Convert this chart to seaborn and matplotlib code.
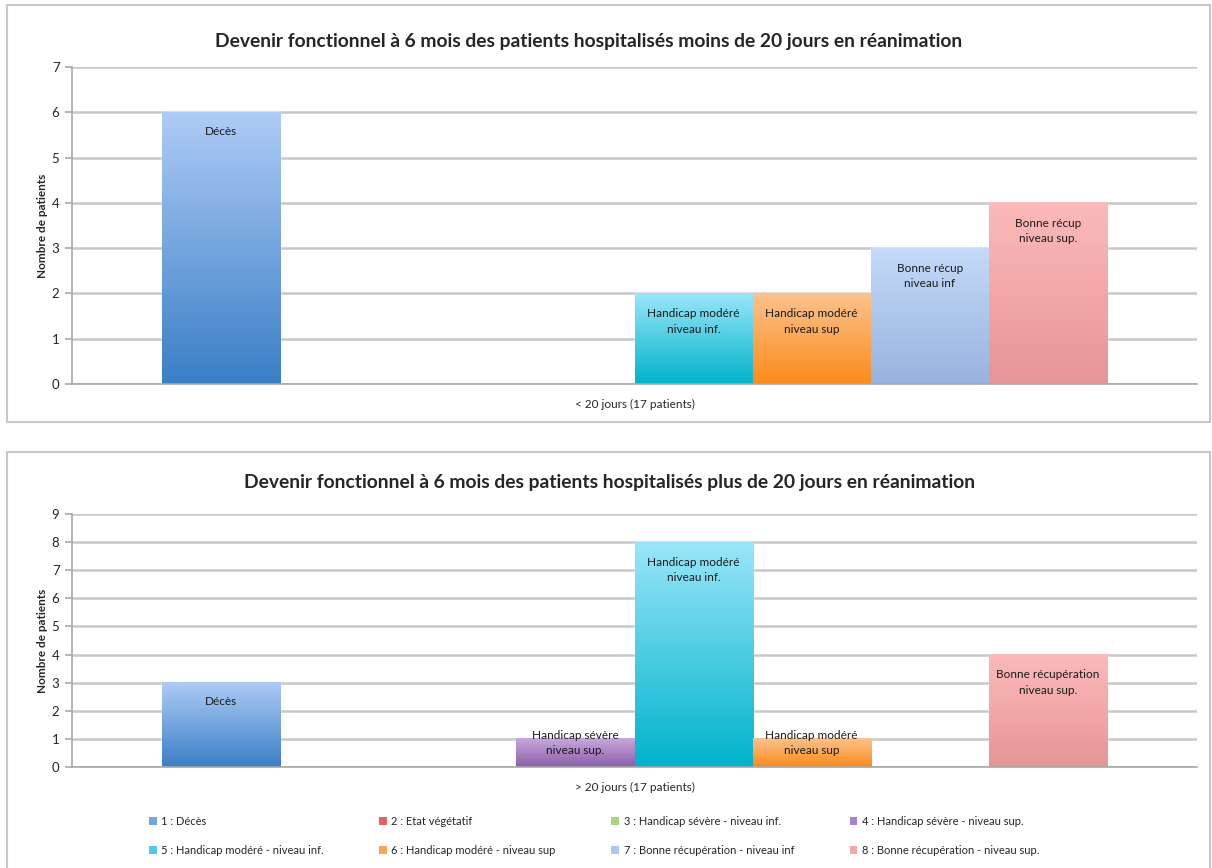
import numpy as np
import pandas as pd
import matplotlib.pyplot as plt
import seaborn as sns
from matplotlib.colors import LinearSegmentedColormap, to_rgb
from matplotlib.patches import Patch, Rectangle

sns.set_style("white")
plt.rcParams["font.family"] = ["Lato", "DejaVu Sans"]

# DONNEES
categories = ["1 : Décès", "2 : Etat végétatif", "3 : Handicap sévère - niveau inf.",
              "4 : Handicap sévère - niveau sup.", "5 : Handicap modéré - niveau inf.",
              "6 : Handicap modéré - niveau sup", "7 : Bonne récupération - niveau inf",
              "8 : Bonne récupération - niveau sup."]
counts_moins = [6, 0, 0, 0, 2, 2, 3, 4]
counts_plus = [3, 0, 0, 1, 8, 1, 0, 4]
labels_moins = ["Décès", "", "", "", "Handicap modéré\nniveau inf.", "Handicap modéré\nniveau sup",
                "Bonne récup\nniveau inf", "Bonne récup\nniveau sup."]
labels_plus = ["Décès", "", "", "Handicap sévère\nniveau sup.", "Handicap modéré\nniveau inf.",
               "Handicap modéré\nniveau sup", "", "Bonne récupération\nniveau sup."]
group_moins = "< 20 jours (17 patients)"
group_plus = "> 20 jours (17 patients)"
title_moins = "Devenir fonctionnel à 6 mois des patients hospitalisés moins de 20 jours en réanimation"
title_plus = "Devenir fonctionnel à 6 mois des patients hospitalisés plus de 20 jours en réanimation"

# couleurs en degrade (haut, bas)
top_colors = ["#aecbf6", "#f08a8c", "#c5e8a5", "#c9a8dd", "#9ae6f9", "#fcc28e", "#c5daf9", "#fcbabb"]
bottom_colors = ["#3a7fc6", "#d63b40", "#86c058", "#8a5ea8", "#00b3cc", "#fb8b1a", "#98b3df", "#e69596"]

W, H = 1212, 868
fig = plt.figure(figsize=(W / 100, H / 100), dpi=100)
GRID = "#c8c8c8"


def draw_panel(ax, counts, labels, group, ymax):
    df = pd.DataFrame({"groupe": group, "categorie": categories, "n": counts})
    sns.barplot(data=df, x="groupe", y="n", hue="categorie", hue_order=categories,
                palette=dict(zip(categories, bottom_colors)), width=0.84, saturation=1,
                errorbar=None, legend=False, ax=ax, zorder=2)
    ax.set_xlim(-0.5, 0.5)
    ax.set_ylim(0, ymax)
    bars = sorted(ax.patches, key=lambda p: p.get_x())
    grad = np.linspace(0, 1, 256).reshape(-1, 1)
    y0px = ax.transData.transform((0, 0))[1]
    for i, p in enumerate(bars):
        x0, w, h = p.get_x(), p.get_width(), p.get_height()
        if h <= 0:
            continue
        cmap = LinearSegmentedColormap.from_list("g", [bottom_colors[i], top_colors[i]])
        ax.imshow(grad, extent=(x0, x0 + w, 0, h), origin="lower", aspect="auto",
                  cmap=cmap, zorder=2.5)
        if labels[i]:
            hpx = ax.transData.transform((0, h))[1] - y0px
            off = 19 if "\n" not in labels[i] else 28
            off = min(off, hpx - 24)
            ax.annotate(labels[i], (x0 + w / 2, h), xytext=(0, -off), textcoords="offset pixels",
                        ha="center", va="center", fontsize=8.5, color="#1a1a1a",
                        linespacing=1.5, zorder=4)
    ax.set_xlim(-0.5, 0.5)
    ax.set_ylim(0, ymax)
    ax.set_yticks(range(ymax + 1))
    ax.set_xticks([])
    ax.yaxis.grid(True, color=GRID, lw=1.8)
    ax.set_axisbelow(True)
    for s in ["top", "right"]:
        ax.spines[s].set_visible(False)
    for s in ["left", "bottom"]:
        ax.spines[s].set_color("#a8a8a8")
        ax.spines[s].set_linewidth(1.2)
    ax.tick_params(axis="y", length=5, width=1.2, color="#a8a8a8", labelsize=9.5, pad=4,
                   left=True)
    ax.set_ylabel("Nombre de patients", fontsize=8.5, fontweight="bold", labelpad=3)
    ax.set_xlabel(group, fontsize=8.5, labelpad=11)


ax1 = fig.add_axes([72 / W, 1 - 384 / H, 1125 / W, (384 - 67) / H])
draw_panel(ax1, counts_moins, labels_moins, group_moins, 7)
ax2 = fig.add_axes([72 / W, 1 - 767 / H, 1125 / W, (767 - 514) / H])
draw_panel(ax2, counts_plus, labels_plus, group_plus, 9)

fig.text(589 / W, 1 - 42 / H, title_moins, ha="center", va="center", fontsize=13.9, fontweight="bold")
fig.text(610 / W, 1 - 483 / H, title_plus, ha="center", va="center", fontsize=13.9, fontweight="bold")

# cadres des graphiques
fig.add_artist(Rectangle((7 / W, 1 - 422 / H), 1203 / W, 417 / H, transform=fig.transFigure,
                         fill=False, ec=GRID, lw=1.5))
fig.add_artist(Rectangle((7 / W, -0.02), 1203 / W, 1 - 452 / H + 0.02, transform=fig.transFigure,
                         fill=False, ec=GRID, lw=1.5))

# legende (4 colonnes, remplie ligne par ligne)
mid = [tuple((np.array(to_rgb(a)) + np.array(to_rgb(b))) / 2) for a, b in zip(top_colors, bottom_colors)]
handles = [Patch(facecolor=c, edgecolor="none", label=l) for c, l in zip(mid, categories)]
order = [0, 4, 1, 5, 2, 6, 3, 7]
fig.legend(handles=[handles[i] for i in order], ncol=4, loc="center",
           bbox_to_anchor=(594 / W, 1 - 836 / H), frameon=False, fontsize=8,
           handlelength=0.7, handleheight=0.7, handletextpad=0.4, labelspacing=1.6,
           columnspacing=5.0)

fig.savefig("out.png", dpi=100)
